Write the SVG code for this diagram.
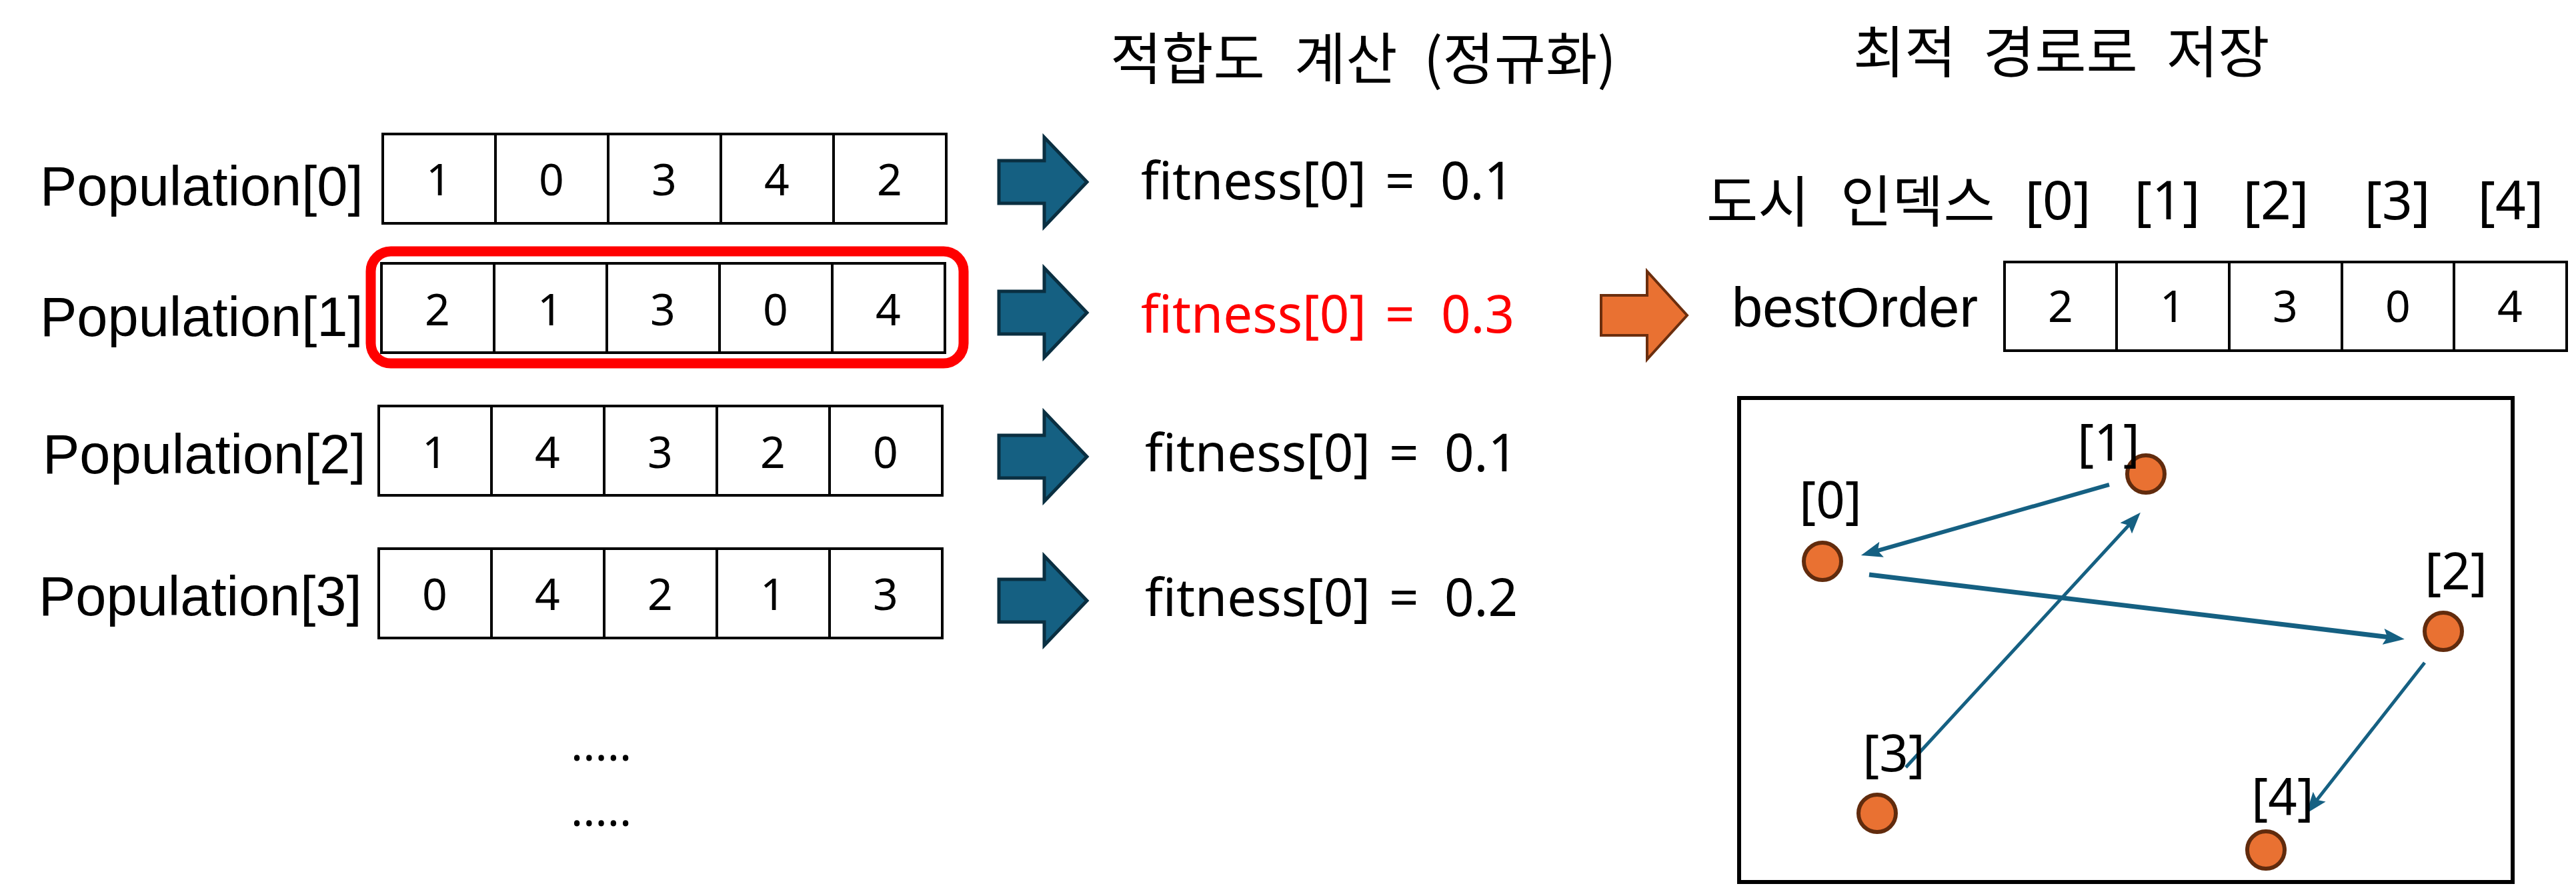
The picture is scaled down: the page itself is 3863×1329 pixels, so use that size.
<svg xmlns="http://www.w3.org/2000/svg" width="3863" height="1329" viewBox="0 0 3863 1329">
<style>
.bg{fill:#ffffff}
.lbl{font-family:"Liberation Sans",Arial,sans-serif;font-size:83px;fill:#000}
.cell{fill:#fff;stroke:#000;stroke-width:4}
.div{stroke:#000;stroke-width:4}
.dg{font-family:"Noto Sans","Open Sans",sans-serif;font-size:66px;fill:#000;text-anchor:middle}
.fit{font-family:"Noto Sans","Open Sans",sans-serif;font-size:78px;fill:#000}
.red{fill:#ff0000}
.ko{font-family:"Noto Sans CJK KR","Noto Sans",sans-serif;font-size:84px;fill:#000}
.idx{font-family:"Noto Sans","Open Sans",sans-serif;font-size:76px;fill:#000;text-anchor:middle}
.hidx{font-size:80px}
.barrow{fill:#156082;stroke:#0A2F41;stroke-width:5;stroke-linejoin:miter}
.oarrow{fill:#E97132;stroke:#6B2E0E;stroke-width:4}
.node{fill:#E97132;stroke:#612B0D;stroke-width:6}
.con{stroke:#156082;fill:none}
.dots{font-family:"Noto Sans","Open Sans",sans-serif;font-size:68px;fill:#000}
</style>
<defs>
<marker id="ah" markerUnits="userSpaceOnUse" markerWidth="32" markerHeight="24" refX="10" refY="12" orient="auto">
<path d="M0,0 L32,12 L0,24 L6,12 Z" fill="#156082"/>
</marker>
</defs>
<rect class="bg" x="0" y="0" width="3863" height="1329"/>

<g id="title-fitness">
<text class="ko" x="1665" y="119">적합도</text>
<text class="ko" x="1941" y="119">계산</text>
<text class="ko" x="2135" y="119">(정규화)</text>
</g>
<g id="title-best">
<text class="ko" x="2779" y="109">최적</text>
<text class="ko" x="2974" y="109">경로로</text>
<text class="ko" x="3249" y="109">저장</text>
</g>

<g id="pop0">
<text class="lbl" x="60" y="308">Population[0]</text>
<rect class="cell" x="574" y="201" width="845" height="134"/>
<path class="div" d="M743,201V335M912,201V335M1081,201V335M1250,201V335"/>
<text class="dg" x="658" y="293">1</text><text class="dg" x="827" y="293">0</text><text class="dg" x="996" y="293">3</text><text class="dg" x="1165" y="293">4</text><text class="dg" x="1334" y="293">2</text>
</g>
<g id="pop1">
<text class="lbl" x="60" y="504">Population[1]</text>
<rect x="556" y="377" width="889" height="168" rx="30" fill="none" stroke="#ff0000" stroke-width="15"/>
<rect class="cell" x="572" y="395" width="845" height="134"/>
<path class="div" d="M741,395V529M910,395V529M1079,395V529M1248,395V529"/>
<text class="dg" x="656" y="488">2</text><text class="dg" x="825" y="488">1</text><text class="dg" x="994" y="488">3</text><text class="dg" x="1163" y="488">0</text><text class="dg" x="1332" y="488">4</text>
</g>
<g id="pop2">
<text class="lbl" x="64" y="710">Population[2]</text>
<rect class="cell" x="568" y="609" width="845" height="134"/>
<path class="div" d="M737,609V743M906,609V743M1075,609V743M1244,609V743"/>
<text class="dg" x="652" y="702">1</text><text class="dg" x="821" y="702">4</text><text class="dg" x="990" y="702">3</text><text class="dg" x="1159" y="702">2</text><text class="dg" x="1328" y="702">0</text>
</g>
<g id="pop3">
<text class="lbl" x="58" y="923">Population[3]</text>
<rect class="cell" x="568" y="823" width="845" height="134"/>
<path class="div" d="M737,823V957M906,823V957M1075,823V957M1244,823V957"/>
<text class="dg" x="652" y="915">0</text><text class="dg" x="821" y="915">4</text><text class="dg" x="990" y="915">2</text><text class="dg" x="1159" y="915">1</text><text class="dg" x="1328" y="915">3</text>
</g>
<g id="ellipsis">
<text class="dots" x="856" y="1141">.....</text>
<text class="dots" x="856" y="1239">.....</text>
</g>

<g id="arrows">
<path class="barrow" transform="translate(0,273)" d="M1498,-32H1566V-67L1630,0L1566,67V32H1498Z"/>
<path class="barrow" transform="translate(0,469)" d="M1498,-32H1566V-67L1630,0L1566,67V32H1498Z"/>
<path class="barrow" transform="translate(0,685)" d="M1498,-32H1566V-67L1630,0L1566,67V32H1498Z"/>
<path class="barrow" transform="translate(0,901)" d="M1498,-32H1566V-67L1630,0L1566,67V32H1498Z"/>
<path class="oarrow" transform="translate(0,473)" d="M2401,-30H2470V-66L2530,0L2470,66V30H2401Z"/>
</g>

<g id="fit0"><text class="fit" x="1711" y="299">fitness[0]</text><text class="fit" x="2077" y="299">=</text><text class="fit" x="2160" y="299">0.1</text></g>
<g id="fit1"><text class="fit red" x="1711" y="499">fitness[0]</text><text class="fit red" x="2077" y="499">=</text><text class="fit red" x="2161" y="499">0.3</text></g>
<g id="fit2"><text class="fit" x="1717" y="707">fitness[0]</text><text class="fit" x="2083" y="707">=</text><text class="fit" x="2166" y="707">0.1</text></g>
<g id="fit3"><text class="fit" x="1717" y="924">fitness[0]</text><text class="fit" x="2083" y="924">=</text><text class="fit" x="2166" y="924">0.2</text></g>

<g id="city-index">
<text class="ko" x="2559" y="333">도시</text>
<text class="ko" x="2760" y="333">인덱스</text>
<text class="idx hidx" x="3086" y="329">[0]</text>
<text class="idx hidx" x="3250" y="329">[1]</text>
<text class="idx hidx" x="3413" y="329">[2]</text>
<text class="idx hidx" x="3595" y="329">[3]</text>
<text class="idx hidx" x="3765" y="329">[4]</text>
</g>
<g id="bestOrder">
<text class="lbl" x="2597" y="490">bestOrder</text>
<rect class="cell" x="3006" y="393" width="843" height="133"/>
<path class="div" d="M3174,393V526M3343,393V526M3512,393V526M3680,393V526"/>
<text class="dg" x="3090" y="483">2</text><text class="dg" x="3258" y="483">1</text><text class="dg" x="3427" y="483">3</text><text class="dg" x="3596" y="483">0</text><text class="dg" x="3764" y="483">4</text>
</g>

<g id="map">
<rect x="2608" y="597" width="1160" height="726" fill="none" stroke="#000" stroke-width="6"/>
</g>
<g id="connectors">
<line class="con" stroke-width="6" x1="3163" y1="727" x2="2812" y2="827" marker-end="url(#ah)"/>
<line class="con" stroke-width="7" x1="2803" y1="862" x2="3584" y2="956" marker-end="url(#ah)"/>
<line class="con" stroke-width="5" x1="2858" y1="1151" x2="3195" y2="785" marker-end="url(#ah)"/>
<line class="con" stroke-width="5" x1="3636" y1="994" x2="3472" y2="1203" marker-end="url(#ah)"/>
</g>
<g id="city0"><circle class="node" cx="2733" cy="842" r="28"/><text class="idx" x="2745" y="777">[0]</text></g>
<g id="city1"><circle class="node" cx="3218" cy="711" r="28"/><text class="idx" x="3162" y="691">[1]</text></g>
<g id="city2"><circle class="node" cx="3664" cy="947" r="28"/><text class="idx" x="3683" y="884">[2]</text></g>
<g id="city3"><circle class="node" cx="2815" cy="1220" r="28"/><text class="idx" x="2840" y="1157">[3]</text></g>
<g id="city4"><circle class="node" cx="3398" cy="1275" r="28"/><text class="idx" x="3423" y="1222">[4]</text></g>
</svg>
